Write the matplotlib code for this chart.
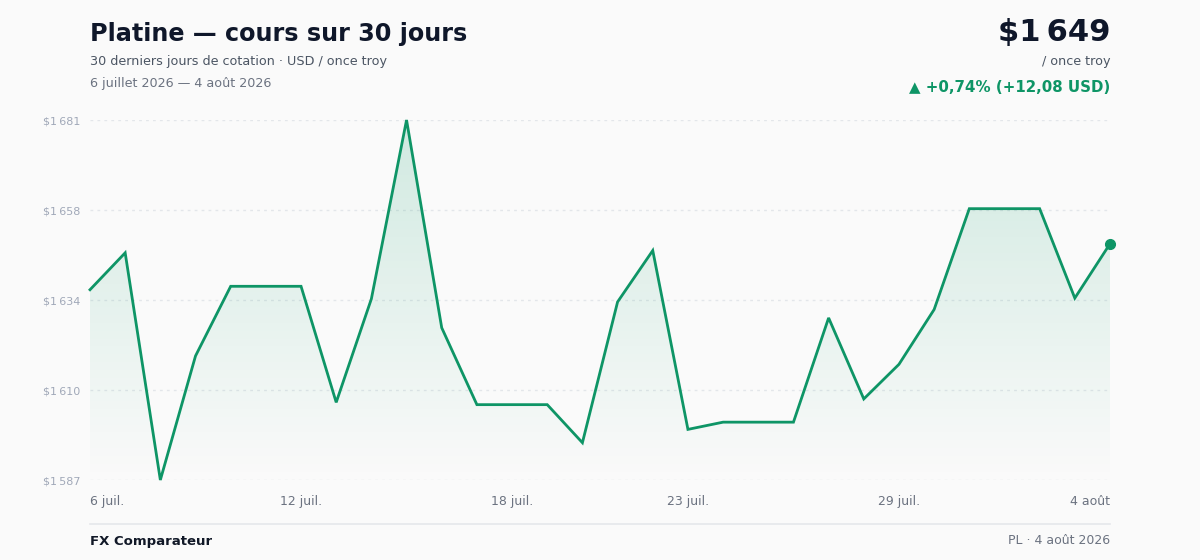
import numpy as np
import matplotlib
matplotlib.use("Agg")
import matplotlib.pyplot as plt
from matplotlib.patches import Polygon

# Cours du platine, USD / once troy, 6 juillet -> 4 aout 2026
prices = [1636.8, 1646.5, 1586.8, 1619.4, 1637.7, 1637.7, 1637.7, 1607.2, 1634.4, 1681.4,
          1626.8, 1606.6, 1606.6, 1606.6, 1596.6, 1633.6, 1647.1, 1600.1, 1602.0, 1602.0,
          1602.0, 1629.4, 1608.1, 1617.2, 1631.6, 1658.1, 1658.1, 1658.1, 1634.6, 1648.88]
tick_idx = [0, 6, 12, 17, 23, 29]
tick_labels = ["6 juil.", "12 juil.", "18 juil.", "23 juil.", "29 juil.", "4 août"]

GREEN = "#0e9566"
BG = "#fafafa"

x = np.arange(len(prices))
y = np.array(prices)
ymin, ymax = y.min(), y.max()

fig = plt.figure(figsize=(12, 5.6), dpi=100, facecolor=BG)
ax = fig.add_axes([0.075, 1 - 480 / 560, 0.85, 360 / 560])
ax.set_facecolor(BG)
ax.set_xlim(0, len(prices) - 1)
ax.set_ylim(ymin, ymax)

# degrade sous la courbe
grad = np.linspace(0.0, 1.0, 256).reshape(-1, 1)
cmap = matplotlib.colors.LinearSegmentedColormap.from_list(
    "g", [(0.07, 0.62, 0.42, 0.0), (0.07, 0.62, 0.42, 0.18)])
img = ax.imshow(grad, extent=[0, len(prices) - 1, ymin, ymax], origin="lower",
                aspect="auto", cmap=cmap, zorder=1)
poly = Polygon(np.column_stack([np.r_[x, x[-1], x[0]], np.r_[y, ymin, ymin]]),
               closed=True, facecolor="none", edgecolor="none")
ax.add_patch(poly)
img.set_clip_path(poly)

ax.plot(x, y, color=GREEN, linewidth=2, zorder=3, clip_on=False, solid_joinstyle="miter")
ax.plot(x[-1], y[-1], "o", color=GREEN, markersize=7, zorder=4, clip_on=False)

yt = np.linspace(ymin, ymax, 5)
for v in yt:
    ax.axhline(v, color="#e3e6ea", linewidth=1, linestyle=(0, (2, 3)), zorder=0)
ax.set_yticks(yt)
ax.set_yticklabels(["$1\u202f" + f"{int(round(v)) - 1000:03d}" for v in yt],
                   fontsize=8, color="#a0a8b8")
ax.set_xticks(tick_idx)
ax.set_xticklabels(tick_labels, fontsize=9, color="#6b7280")
xl = ax.get_xticklabels()
xl[0].set_ha("left")
xl[-1].set_ha("right")
ax.tick_params(axis="y", length=0, pad=7)
ax.tick_params(axis="x", length=0, pad=11)
for s in ax.spines.values():
    s.set_visible(False)

# entete
fig.text(90 / 1200, 1 - 34 / 560, "Platine — cours sur 30 jours", fontsize=17.2,
         fontweight="bold", color="#0f172a", va="center")
fig.text(90 / 1200, 1 - 61 / 560, "30 derniers jours de cotation · USD / once troy",
         fontsize=9.2, color="#4b5563", va="center")
fig.text(90 / 1200, 1 - 83 / 560, "6 juillet 2026 — 4 août 2026",
         fontsize=9.2, color="#6b7280", va="center")

first, last = prices[0], prices[-1]
diff = last - first
pct = diff / first * 100
fig.text(1110 / 1200, 1 - 32 / 560, "$1\u202f" + f"{int(round(last)) - 1000:03d}",
         fontsize=22, fontweight="bold", color="#0f172a", va="center", ha="right")
fig.text(1110 / 1200, 1 - 61 / 560, "/ once troy", fontsize=9.2, color="#4b5563",
         va="center", ha="right")
fig.text(1110 / 1200, 1 - 87 / 560,
         f"▲ +{pct:.2f}% (+{diff:.2f} USD)".replace(".", ","),
         fontsize=10.8, fontweight="bold", color=GREEN, va="center", ha="right")

# pied
fig.add_artist(plt.Line2D([90 / 1200, 1110 / 1200], [1 - 524 / 560] * 2,
                          color="#e5e7eb", linewidth=1.2))
fig.text(90 / 1200, 1 - 541 / 560, "FX Comparateur", fontsize=9.5, fontweight="bold",
         color="#111827", va="center")
fig.text(1110 / 1200, 1 - 541 / 560, "PL · 4 août 2026", fontsize=9,
         color="#6b7280", va="center", ha="right")

fig.savefig("out.png", dpi=100, facecolor=BG)
